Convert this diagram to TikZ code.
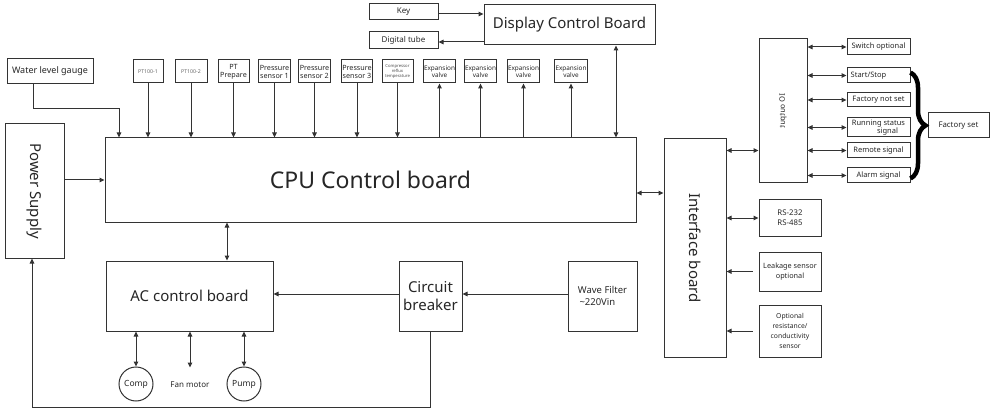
\documentclass[tikz,border=0pt]{standalone}
\usepackage{fontspec}
\setmainfont{Noto Sans}
\usepackage{graphicx}
\usepackage{tikz}
\usetikzlibrary{arrows.meta}
\usetikzlibrary{decorations.pathreplacing}

\begin{document}
\begin{tikzpicture}[x=1pt, y=1pt]
	\useasboundingbox (0,0) rectangle (994,-409);
	\begin{scope}[every node/.style = {draw=black!80, line width=1pt, align=center, inner sep=1pt, text=black!85},
		sens/.style = {minimum width=31pt, minimum height=23pt, font=\fontsize{7.2}{8}\selectfont},
		sig/.style = {minimum width=63pt, font=\fontsize{7.5}{8}\selectfont},
		big/.style = {font=\fontsize{15}{17.5}\selectfont}]
		% top row
		\node[minimum width=86pt, minimum height=25pt, font=\fontsize{9}{10}\selectfont] (water) at (50,-71.5) {Water level gauge};
		\node[sens, minimum width=30pt, font=\fontsize{5.2}{6}\selectfont, text=black!60] (pt1) at (148,-71.5) {PT100-1};
		\node[sens, minimum width=32pt, font=\fontsize{5.2}{6}\selectfont, text=black!60] (pt2) at (191,-71.5) {PT100-2};
		\node[sens] (ptp) at (233.5,-71.5) {PT\\Prepare};
		\node[sens] (ps1) at (274.5,-71.5) {Pressure\\sensor 1};
		\node[sens] (ps2) at (314.5,-71.5) {Pressure\\sensor 2};
		\node[sens, minimum width=30pt] (ps3) at (357,-71.5) {Pressure\\sensor 3};
		\node[sens, font=\fontsize{4.2}{5.2}\selectfont, text=black!70] (crt) at (397.5,-71.5) {Compressor\\reflux\\temperature};
		\node[sens, font=\fontsize{6.4}{7.4}\selectfont] (ev1) at (439.5,-71.5) {Expansion\\valve};
		\node[sens, font=\fontsize{6.4}{7.4}\selectfont] (ev2) at (480.5,-71.5) {Expansion\\valve};
		\node[sens, font=\fontsize{6.4}{7.4}\selectfont] (ev3) at (523.5,-71.5) {Expansion\\valve};
		\node[sens, minimum width=32pt, font=\fontsize{6.4}{7.4}\selectfont] (ev4) at (571,-71.5) {Expansion\\valve};
		\node[minimum width=69pt, minimum height=16pt, font=\fontsize{8}{9}\selectfont] (key) at (403.5,-12) {Key};
		\node[minimum width=69pt, minimum height=17pt, font=\fontsize{8}{9}\selectfont] (tube) at (403.5,-40.5) {Digital tube};
		\node[big, minimum width=171pt, minimum height=40pt] (dcb) at (569.5,-25) {Display Control Board};
		% main boards
		\node[minimum width=531pt, minimum height=84pt, font=\fontsize{23}{25}\selectfont] (cpu) at (370.5,-180) {CPU Control board};
		\node[big, minimum width=59pt, minimum height=134pt] (power) at (34.5,-191) {\rotatebox{-90}{Power Supply}};
		\node[big, minimum width=167pt, minimum height=70pt] (ac) at (189.5,-296) {AC control board};
		\node[big, minimum width=63pt, minimum height=70pt] (cb) at (430.5,-296) {Circuit\\breaker};
		\node[minimum width=69pt, minimum height=70pt, font=\fontsize{9.5}{12.5}\selectfont, align=left] (wf) at (602.5,-296) {Wave Filter\\\,\textasciitilde220Vin};
		\node[circle, minimum size=34pt, font=\fontsize{8.5}{9}\selectfont] (comp) at (136,-384) {Comp};
		\node[draw=none, minimum height=34pt, font=\fontsize{8}{9}\selectfont] (fan) at (190,-385) {Fan motor};
		\node[circle, minimum size=34pt, font=\fontsize{8.5}{9}\selectfont] (pump) at (244,-384) {Pump};
		% interface side
		\node[big, minimum width=62pt, minimum height=218pt] (iface) at (695,-248) {\rotatebox{-90}{Interface board}};
		\node[minimum width=48pt, minimum height=144pt, font=\fontsize{7.5}{8}\selectfont] (io) at (783,-111) {\rotatebox{-90}{\scalebox{1}[-1]{IO output}}};
		\node[sig, minimum height=16pt] (sw) at (878.5,-47) {Switch optional};
		\node[sig, minimum height=15pt, align=left] (ss) at (878.5,-75.5) {Start/Stop\hspace{20pt}};
		\node[sig, minimum height=14pt] (fns) at (878.5,-100) {Factory not set};
		\node[sig, minimum height=19pt, font=\fontsize{7.5}{6.8}\selectfont] (rss) at (878.5,-127.5) {Running status\\\hspace{18pt}signal};
		\node[sig, minimum height=15pt] (rem) at (878.5,-150.5) {Remote signal};
		\node[sig, minimum height=15pt] (alm) at (878.5,-175.5) {Alarm signal};
		\node[minimum width=61pt, minimum height=25pt, font=\fontsize{7.8}{8}\selectfont] (fset) at (958.5,-125.5) {Factory set};
		\node[minimum width=62pt, minimum height=36pt, font=\fontsize{7.8}{10}\selectfont] (rs) at (790,-218) {RS-232\\RS-485};
		\node[minimum width=62pt, minimum height=39pt, font=\fontsize{7.3}{10.5}\selectfont] (leak) at (790,-271.5) {Leakage sensor\\optional};
		\node[minimum width=62pt, minimum height=52pt, font=\fontsize{6.8}{10}\selectfont] (opt) at (790,-331) {Optional\\resistance/\\conductivity\\sensor};
	\end{scope}
	\begin{scope}[>={Stealth[length=5pt, width=4.5pt, inset=0pt]},
			every edge/.style={draw=black!80, line width=1pt}]
		% sensors down to the CPU board, valves up from it
		\foreach \s in {pt1,pt2,ptp,ps1,ps2,ps3,crt}
			\path [->] (\s) edge (\s |- cpu.north);
		\foreach \s in {ev1,ev2,ev3,ev4}
			\path [->] (\s |- cpu.north) edge (\s);
		\coordinate (wbend) at (119,-109);
		\draw [->, draw=black!80, line width=1pt] ([xshift=-17pt]water.south) |- (wbend) -- (wbend |- cpu.north);
		\path [->] (key.east |- 0,-14) edge (dcb.west |- 0,-14);
		\path [->] (dcb.west |- 0,-42) edge (tube.east |- 0,-42);
		\path [<->] ([xshift=46.5pt]dcb.south) edge ([xshift=46.5pt]dcb.south |- cpu.north);
		\path [->] (power.east |- cpu.west) edge (cpu.west);
		\path [<->] ([xshift=37.5pt]ac.north |- cpu.south) edge ([xshift=37.5pt]ac.north);
		\path [->] (cb.west |- 0,-294) edge (ac.east |- 0,-294);
		\path [->] (wf.west |- 0,-294) edge (cb.east |- 0,-294);
		\draw [->, draw=black!80, line width=1pt] (cb.south) -- ++(0,-76) -| ([xshift=-2.5pt]power.south);
		\path [<->] (comp |- ac.south) edge (comp);
		\path [<->] (fan |- ac.south) edge (fan.north);
		\path [<->] (pump |- ac.south) edge (pump);
		% interface board links
		\path [<->] ([yshift=-13pt]cpu.east) edge ([yshift=-13pt]cpu.east -| iface.west);
		\path [<->] (iface.east |- rem) edge (io.west |- rem);
		\foreach \s in {sw,ss,fns,rss,rem,alm}
			\path [<->] (io.east |- \s) edge (\s.west);
		\path [<->] (iface.east |- rs) edge (rs.west);
		\path [->] ([xshift=-6pt]leak.west) edge (iface.east |- leak);
		\path [->] ([xshift=-6pt]opt.west) edge (iface.east |- opt);
		\draw [decorate, decoration={brace, amplitude=15pt}, line width=4.5pt] ([yshift=3pt]ss.east) -- ([yshift=-3pt]alm.east);
	\end{scope}
\end{tikzpicture}
\end{document}
